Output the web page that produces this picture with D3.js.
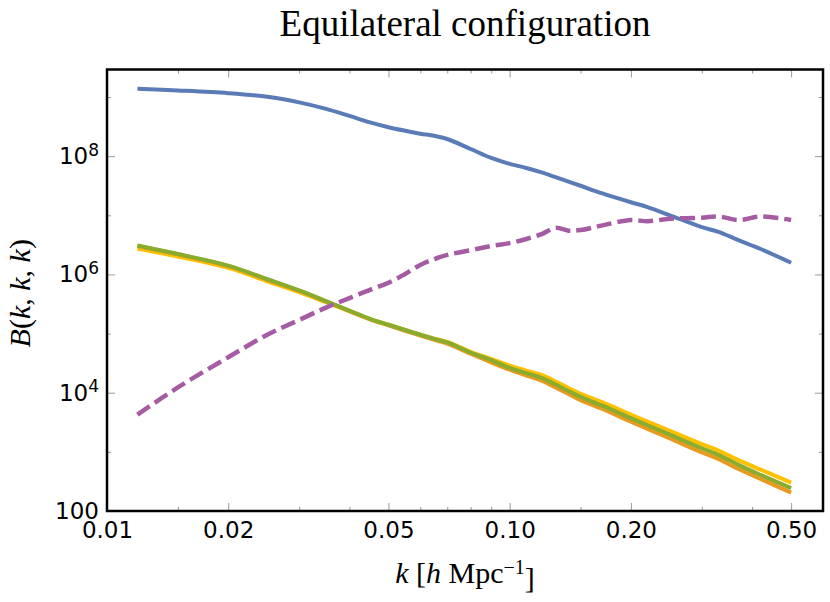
<!DOCTYPE html>
<html>
<head>
<meta charset="utf-8">
<script src="https://cdn.jsdelivr.net/npm/d3@7"></script>
<style>
  body { margin: 0; background: #fff; }
  svg { display: block; }
  .tick line { stroke: #999; stroke-width: 1; }
  .tick text { font-family: "DejaVu Sans", sans-serif; font-size: 23px; fill: #000; }
  .serif { font-family: "Liberation Serif", "DejaVu Serif", serif; fill: #000; }
</style>
</head>
<body>
<div id="chart"></div>
<script>
// wavenumber k [h/Mpc], shared by all curves
const K = [0.0119, 0.015, 0.02, 0.025, 0.03, 0.035, 0.04, 0.045, 0.05, 0.055,
           0.06, 0.065, 0.07, 0.08, 0.09, 0.1, 0.11, 0.12, 0.13, 0.14,
           0.15, 0.17, 0.2, 0.22, 0.25, 0.3, 0.33, 0.37, 0.42, 0.5];

// bispectrum values
const BLUE = [1.38e9, 1.29e9, 1.16e9, 1.01e9, 8.13e8, 6.31e8, 4.79e8, 3.72e8, 3.09e8, 2.69e8,
              2.40e8, 2.21e8, 1.95e8, 1.32e8, 9.33e7, 7.41e7, 6.31e7, 5.31e7, 4.42e7, 3.72e7,
              3.16e7, 2.34e7, 1.66e7, 1.38e7, 1.00e7, 6.31e6, 5.25e6, 3.80e6, 2.69e6, 1.58e6];
const PURPLE = [4.27e3, 1.23e4, 3.98e4, 9.55e4, 1.70e5, 2.75e5, 3.98e5, 5.50e5, 7.24e5, 1.02e6,
                1.45e6, 1.82e6, 2.14e6, 2.57e6, 3.02e6, 3.39e6, 3.98e6, 4.79e6, 6.17e6, 5.50e6,
                5.62e6, 6.76e6, 8.32e6, 7.94e6, 8.71e6, 9.12e6, 9.55e6, 8.32e6, 9.55e6, 8.32e6];
const YELLOW = [2.75e6, 2.00e6, 1.29e6, 7.67e5, 5.01e5, 3.39e5, 2.40e5, 1.76e5, 1.41e5, 1.15e5,
                9.55e4, 8.22e4, 7.24e4, 4.90e4, 3.72e4, 2.88e4, 2.37e4, 2.00e4, 1.55e4, 1.20e4,
                9.55e3, 6.84e3, 4.27e3, 3.24e3, 2.26e3, 1.35e3, 1050, 724, 501, 302];
const ORANGE = [3.02e6, 2.19e6, 1.38e6, 8.13e5, 5.25e5, 3.47e5, 2.40e5, 1.74e5, 1.38e5, 1.11e5,
                9.23e4, 7.85e4, 6.76e4, 4.57e4, 3.27e4, 2.45e4, 1.95e4, 1.60e4, 1.23e4, 9.55e3,
                7.50e3, 5.31e3, 3.24e3, 2.45e3, 1.68e3, 977, 759, 513, 347, 204];
const GREEN = [3.09e6, 2.21e6, 1.41e6, 8.32e5, 5.37e5, 3.55e5, 2.45e5, 1.78e5, 1.41e5, 1.15e5,
               9.55e4, 8.13e4, 7.08e4, 4.79e4, 3.55e4, 2.63e4, 2.14e4, 1.78e4, 1.38e4, 1.07e4,
               8.51e3, 6.03e3, 3.72e3, 2.82e3, 1.95e3, 1150, 891, 603, 407, 243];

// ticks
const X_MAJOR = [0.01, 0.02, 0.05, 0.1, 0.2, 0.5];
const X_MINOR = [0.015, 0.03, 0.04, 0.06, 0.07, 0.08, 0.09, 0.15, 0.3, 0.4, 0.6];
const Y_MAJOR = [1e2, 1e4, 1e6, 1e8];
const Y_MINOR = [1e3, 1e5, 1e7, 1e9];

const W = 830, H = 602;
const M = {left: 107, right: 7, top: 69.5, bottom: 91};
const innerW = W - M.left - M.right, innerH = H - M.top - M.bottom;

const svg = d3.select("#chart").append("svg").attr("width", W).attr("height", H);
const plot = svg.append("g").attr("transform", `translate(${M.left},${M.top})`);

const x = d3.scaleLog().domain([0.01, 0.6]).range([0, innerW]);
const y = d3.scaleLog().domain([1e2, 2.92e9]).range([innerH, 0]);

// ticks point inwards on all four sides, major longer than minor
function tickAxis(axis, vals, len, fmt){
  return axis.tickValues(vals).tickSizeInner(-len).tickSizeOuter(0).tickFormat(fmt || "");
}
plot.append("g").attr("transform", `translate(0,${innerH})`)
    .call(tickAxis(d3.axisBottom(x), X_MAJOR, 8, d3.format(".2f")).tickPadding(11));
plot.append("g").attr("transform", `translate(0,${innerH})`)
    .call(tickAxis(d3.axisBottom(x), X_MINOR, 4));
plot.append("g").call(tickAxis(d3.axisTop(x), X_MAJOR, 8));
plot.append("g").call(tickAxis(d3.axisTop(x), X_MINOR, 4));

const yl = plot.append("g").call(tickAxis(d3.axisLeft(y), Y_MAJOR, 8).tickPadding(8));
plot.append("g").call(tickAxis(d3.axisLeft(y), Y_MINOR, 4));
plot.append("g").attr("transform", `translate(${innerW},0)`).call(tickAxis(d3.axisRight(y), Y_MAJOR, 8));
plot.append("g").attr("transform", `translate(${innerW},0)`).call(tickAxis(d3.axisRight(y), Y_MINOR, 4));
plot.selectAll(".domain").remove();

// y labels as 100, 10^4, 10^6, 10^8
yl.selectAll(".tick text").each(function(d){
  const t = d3.select(this).text(null);
  const e = Math.round(Math.log10(d));
  if (e === 2){ t.text("100"); return; }
  t.append("tspan").text("10");
  t.append("tspan").attr("dy", "-0.5em").attr("font-size", "17px").text(e);
});

// curves
const line = d3.line().x((d, i) => x(K[i])).y(d => y(d)).curve(d3.curveCatmullRom.alpha(0.5));
const SERIES = [
  {vals: BLUE,   color: "#5a7bb6", dash: null},
  {vals: YELLOW, color: "#ffc000", dash: null},
  {vals: ORANGE, color: "#e89a1e", dash: null},
  {vals: GREEN,  color: "#8aac2e", dash: null},
  {vals: PURPLE, color: "#a55ca2", dash: "15,6"}
];
plot.selectAll("path.curve").data(SERIES).enter().append("path")
    .attr("class", "curve")
    .attr("d", s => line(s.vals))
    .attr("fill", "none")
    .attr("stroke", s => s.color)
    .attr("stroke-width", s => s.dash ? 4.5 : 4)
    .attr("stroke-dasharray", s => s.dash);

// frame
plot.append("rect").attr("width", innerW).attr("height", innerH)
    .attr("fill", "none").attr("stroke", "#000").attr("stroke-width", 2.5);

// title and axis labels
svg.append("text").attr("class", "serif")
    .attr("x", M.left + innerW / 2).attr("y", 36).attr("text-anchor", "middle")
    .attr("font-size", "37px").text("Equilateral configuration");

const xt = svg.append("text").attr("class", "serif")
    .attr("x", M.left + innerW / 2).attr("y", 583).attr("text-anchor", "middle")
    .attr("font-size", "30px");
xt.append("tspan").attr("font-style", "italic").text("k");
xt.append("tspan").text(" [");
xt.append("tspan").attr("font-style", "italic").text("h");
xt.append("tspan").text(" Mpc");
xt.append("tspan").attr("dy", "-0.45em").attr("font-size", "20px").text("−1");
xt.append("tspan").attr("dy", "0.45em").text("]");

const yt = svg.append("text").attr("class", "serif")
    .attr("transform", `translate(30,${M.top + innerH / 2 + 3}) rotate(-90)`)
    .attr("text-anchor", "middle").attr("font-size", "30px");
yt.append("tspan").attr("font-style", "italic").text("B");
yt.append("tspan").text("(");
yt.append("tspan").attr("font-style", "italic").text("k");
yt.append("tspan").text(", ");
yt.append("tspan").attr("font-style", "italic").text("k");
yt.append("tspan").text(", ");
yt.append("tspan").attr("font-style", "italic").text("k");
yt.append("tspan").text(")");
</script>
</body>
</html>
